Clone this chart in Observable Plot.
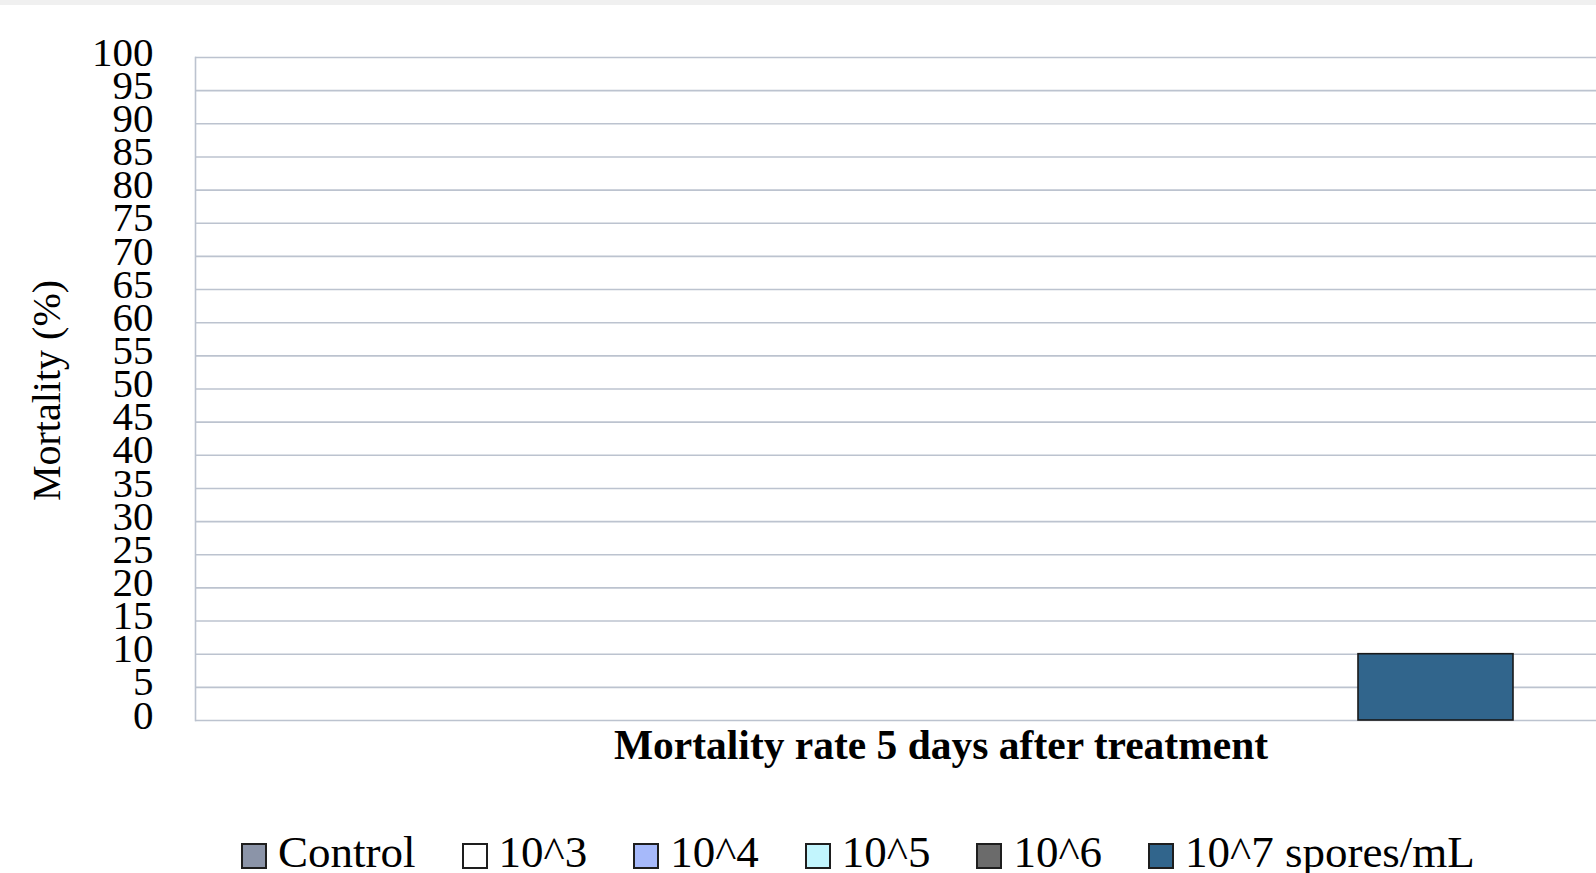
<!DOCTYPE html>
<html><head><meta charset="utf-8">
<script src="https://cdn.jsdelivr.net/npm/d3@7"></script>
<script src="https://cdn.jsdelivr.net/npm/@observablehq/plot@0.6"></script>
<style>
html,body{margin:0;padding:0;background:#fff;width:1596px;height:873px;overflow:hidden;font-family:"Liberation Serif",serif;}
#strip{position:absolute;left:0;top:0;width:1596px;height:5px;background:#f0f0f0;}
#chart{position:absolute;left:0;top:0;}
#legend{position:absolute;left:241px;top:832px;height:40px;display:flex;align-items:center;column-gap:46px;font-size:45px;line-height:40px;color:#000;white-space:nowrap;}
.item{display:flex;align-items:center;}
.sw{width:22px;height:22px;border:2px solid #1e1e1e;margin-right:11px;position:relative;top:4px;box-sizing:content-box;}
</style></head><body>
<div id="chart"></div><div id="strip"></div><div id="legend"></div>
<script>
const series = ["Control", "10^3", "10^4", "10^5", "10^6", "10^7 spores/mL"];
const values = [0, 0, 0, 0, 0, 10];
const colors = ["#8b94a8", "#ffffff", "#a6b9fa", "#c2f5fd", "#6b6b6b", "#31658c"];
const yTicks = [0, 5, 10, 15, 20, 25, 30, 35, 40, 45, 50, 55, 60, 65, 70, 75, 80, 85, 90, 95, 100];
const categoryLabel = "Mortality rate 5 days after treatment";
const yLabel = "Mortality (%)";

const data = series.map((s, i) => ({series: s, value: values[i], color: colors[i]}));

const W = 1596, H = 790;
const chart = Plot.plot({
  width: W, height: H,
  marginTop: 57, marginBottom: 70, marginLeft: 195, marginRight: 0,
  style: {fontFamily: "'Liberation Serif', serif", background: "transparent", color: "#000"},
  x: {domain: series, range: [583, 1513], padding: 0, axis: null},
  y: {domain: [0, 100], ticks: yTicks, axis: null, label: null},
  marks: [
    Plot.gridY(yTicks, {stroke: "#bcc3cf", strokeOpacity: 1, strokeWidth: 1.6}),
    Plot.frame({anchor: "left", stroke: "#bcc3cf", strokeWidth: 1.6}),
    Plot.axisY(yTicks, {tickSize: 0, tickPadding: 42, fontSize: 41, dy: -5, label: null, tickFormat: d => String(d), fill: "#000"}),
    Plot.barY(data.filter(d => d.value > 0), {x: "series", y: "value", fill: "color", stroke: "#1a1a1a", strokeWidth: 1.6}),
    Plot.text([categoryLabel], {frameAnchor: "bottom", text: d => d, dx: 45, dy: 25, fontSize: 41.5, fontWeight: "bold", lineAnchor: "middle", textAnchor: "middle", fill: "#000"}),
    Plot.text([yLabel], {frameAnchor: "left", text: d => d, dx: -148, dy: 1.5, rotate: -90, fontSize: 40, lineAnchor: "middle", textAnchor: "middle", fill: "#000"})
  ]
});
document.getElementById("chart").appendChild(chart);

const legend = d3.select("#legend");
data.forEach(d => {
  const it = legend.append("div").attr("class", "item");
  it.append("div").attr("class", "sw").style("background", d.color);
  it.append("span").text(d.series);
});
</script>
</body></html>
